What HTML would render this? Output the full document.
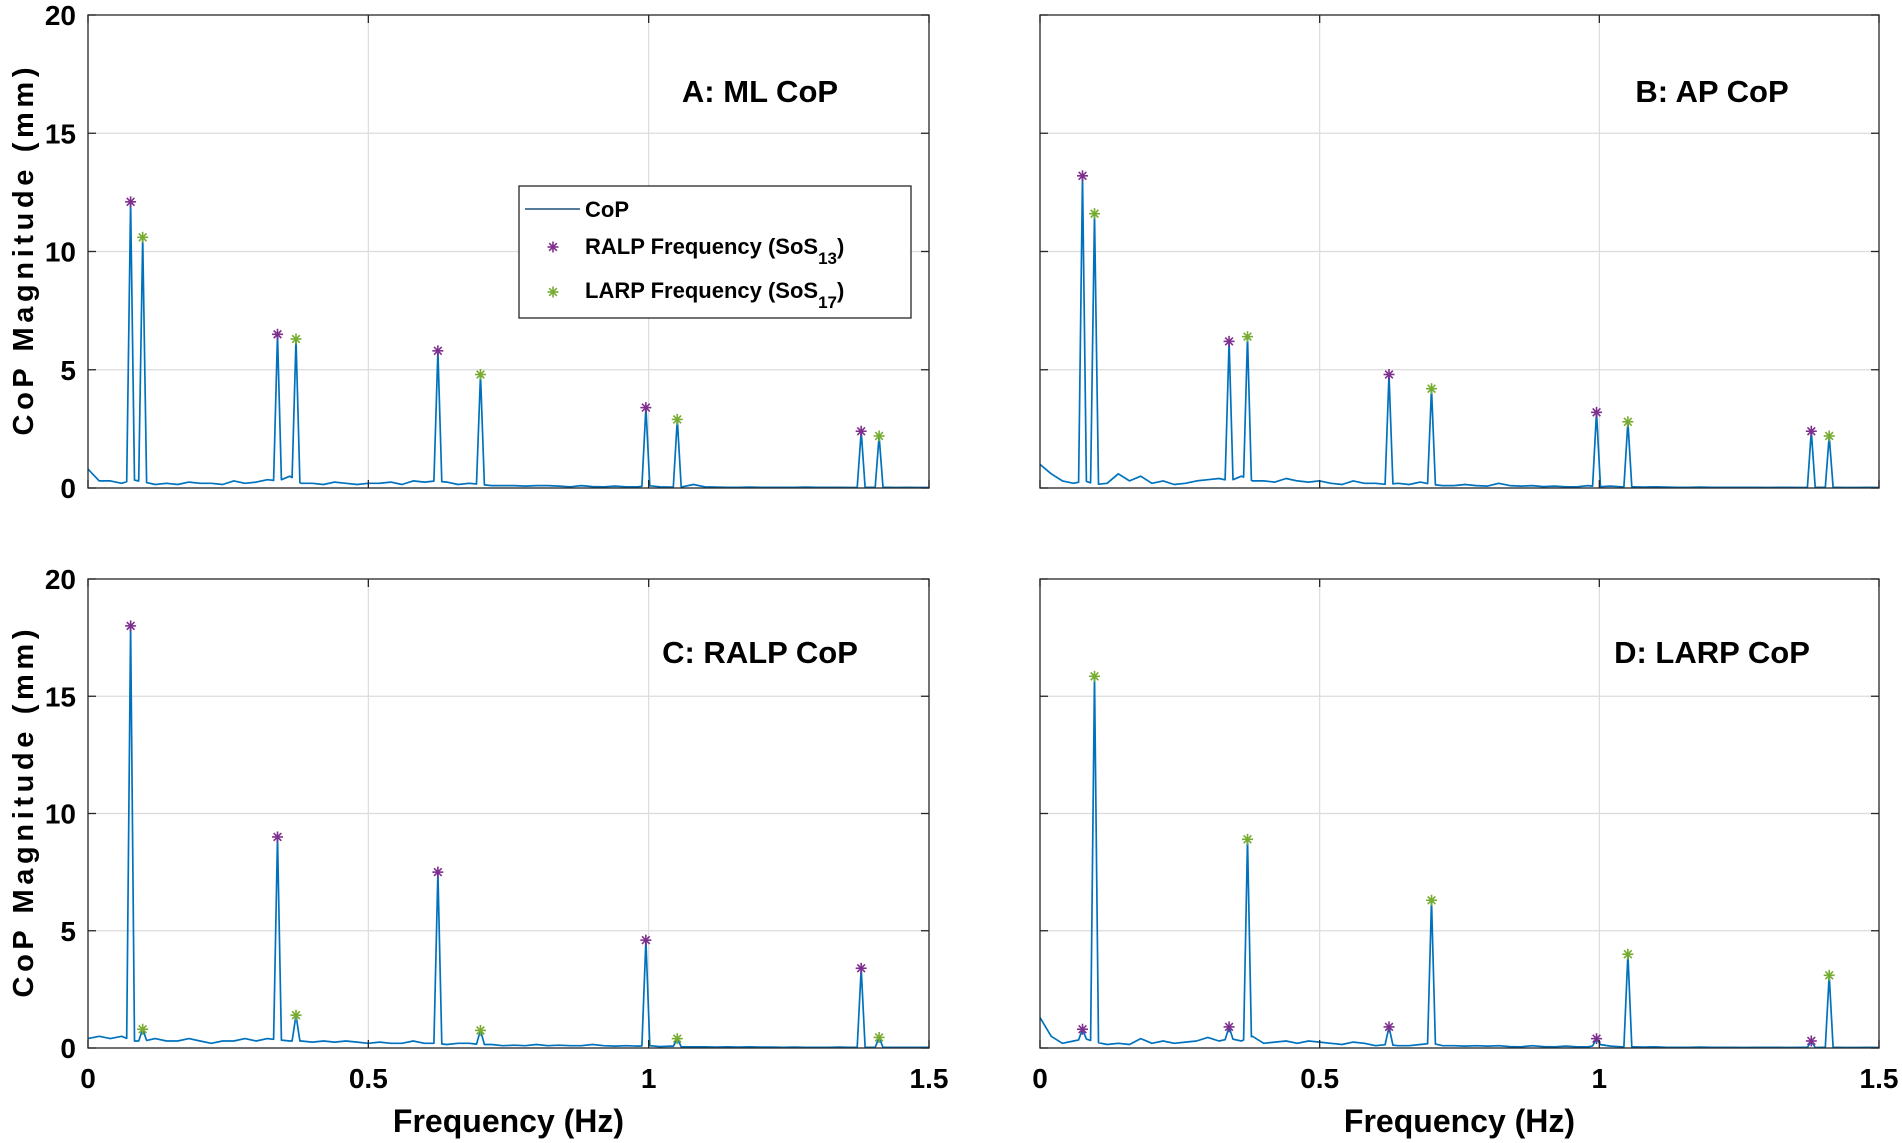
<!DOCTYPE html>
<html><head><meta charset="utf-8"><style>
html,body{margin:0;padding:0;background:#fff;}
svg{display:block;}
.tk{font-family:"Liberation Sans Narrow","Liberation Sans",sans-serif;font-weight:bold;font-size:28px;fill:#000;}
.ttl{font-family:"Liberation Sans Narrow","Liberation Sans",sans-serif;font-weight:bold;font-size:31px;fill:#000;}
.ax{font-family:"Liberation Sans",sans-serif;font-weight:bold;font-size:29px;fill:#000;}
.lg{font-family:"Liberation Sans",sans-serif;font-weight:bold;font-size:22px;fill:#000;}
</style></head><body>
<svg id="chart" width="1902" height="1143" viewBox="0 0 1902 1143" xmlns="http://www.w3.org/2000/svg"></svg>
<script>
const ralpFreqs = [0.076, 0.338, 0.624, 0.995, 1.379];
const larpFreqs = [0.0975, 0.371, 0.700, 1.051, 1.411];
const xTicks = [0, 0.5, 1, 1.5];
const xTickLabels = ["0", "0.5", "1", "1.5"];
const yTicks = [0, 5, 10, 15, 20];
const yTickLabels = ["0", "5", "10", "15", "20"];
const ralpA = [12.1, 6.5, 5.8, 3.4, 2.4];
const larpA = [10.6, 6.3, 4.8, 2.9, 2.2];
const ralpB = [13.2, 6.2, 4.8, 3.2, 2.4];
const larpB = [11.6, 6.4, 4.2, 2.8, 2.2];
const ralpC = [18.0, 9.0, 7.5, 4.6, 3.4];
const larpC = [0.8, 1.4, 0.75, 0.4, 0.45];
const ralpD = [0.8, 0.9, 0.9, 0.4, 0.3];
const larpD = [15.85, 8.9, 6.3, 4.0, 3.1];
const noiseA = [0.8,0.3,0.3,0.2,0.35,0.25,0.15,0.2,0.15,0.25,0.2,0.2,0.15,0.3,0.2,0.25,0.35,0.3,0.5,0.2,0.2,0.15,0.25,0.2,0.15,0.2,0.2,0.25,0.15,0.3,0.25,0.3,0.25,0.15,0.2,0.15,0.1,0.1,0.1,0.08,0.1,0.1,0.08,0.05,0.1,0.06,0.05,0.08,0.05,0.05,0.1,0.05,0.04,0.05,0.15,0.05,0.04,0.03,0.03,0.04,0.03,0.03,0.03,0.03,0.04,0.03,0.03,0.03,0.02,0.03,0.03,0.03,0.02,0.03,0.02,0.02];
const noiseB = [1.0,0.6,0.3,0.2,0.3,0.15,0.2,0.6,0.3,0.5,0.2,0.3,0.15,0.2,0.3,0.35,0.4,0.3,0.5,0.3,0.3,0.25,0.4,0.3,0.25,0.3,0.2,0.15,0.3,0.2,0.2,0.15,0.2,0.15,0.25,0.15,0.1,0.1,0.15,0.1,0.08,0.2,0.1,0.08,0.1,0.06,0.08,0.05,0.05,0.1,0.05,0.08,0.05,0.05,0.04,0.05,0.04,0.03,0.03,0.04,0.03,0.03,0.03,0.03,0.03,0.02,0.03,0.03,0.02,0.03,0.03,0.03,0.02,0.02,0.03,0.02];
const noiseC = [0.4,0.5,0.4,0.5,0.3,0.3,0.4,0.3,0.3,0.4,0.3,0.2,0.3,0.3,0.4,0.3,0.4,0.35,0.3,0.3,0.25,0.3,0.25,0.3,0.25,0.2,0.25,0.2,0.2,0.3,0.2,0.2,0.15,0.2,0.2,0.15,0.15,0.1,0.12,0.1,0.15,0.1,0.12,0.1,0.1,0.15,0.1,0.08,0.1,0.08,0.1,0.06,0.08,0.05,0.05,0.05,0.04,0.05,0.04,0.05,0.04,0.04,0.03,0.04,0.03,0.03,0.03,0.04,0.03,0.03,0.03,0.03,0.03,0.03,0.03,0.03];
const noiseD = [1.3,0.5,0.2,0.3,0.4,0.25,0.15,0.2,0.15,0.4,0.2,0.3,0.2,0.25,0.3,0.45,0.3,0.4,0.3,0.5,0.2,0.25,0.3,0.2,0.3,0.25,0.2,0.15,0.25,0.2,0.1,0.15,0.1,0.1,0.15,0.2,0.1,0.1,0.08,0.1,0.08,0.1,0.06,0.05,0.1,0.06,0.05,0.08,0.05,0.05,0.15,0.08,0.05,0.05,0.04,0.05,0.03,0.03,0.03,0.04,0.03,0.03,0.03,0.02,0.03,0.03,0.03,0.02,0.03,0.02,0.03,0.03,0.02,0.02,0.03,0.02];

const NS = "http://www.w3.org/2000/svg";
const svg = document.getElementById('chart');
function mk(tag, attrs, parent){const e=document.createElementNS(NS,tag);for(const k in attrs)e.setAttribute(k,attrs[k]);(parent||svg).appendChild(e);return e;}

const panels = [
 {id:'a',title:'A: ML CoP',x0:88,x1:929,yT:15,yB:488,ralp:ralpA,larp:larpA,noise:noiseA,showY:true,showX:false,tx:760,ty:102},
 {id:'b',title:'B: AP CoP',x0:1040,x1:1879,yT:15,yB:488,ralp:ralpB,larp:larpB,noise:noiseB,showY:false,showX:false,tx:1712,ty:102},
 {id:'c',title:'C: RALP CoP',x0:88,x1:929,yT:579,yB:1048,ralp:ralpC,larp:larpC,noise:noiseC,showY:true,showX:true,tx:760,ty:663},
 {id:'d',title:'D: LARP CoP',x0:1040,x1:1879,yT:579,yB:1048,ralp:ralpD,larp:larpD,noise:noiseD,showY:false,showX:true,tx:1712,ty:663}
];

function star(g,cx,cy,color,r){
  const s=mk('g',{stroke:color,'stroke-width':1.6},g);
  
  
  mk('line',{x1:cx-r,y1:cy,x2:cx+r,y2:cy},s);
  mk('line',{x1:cx,y1:cy-r,x2:cx,y2:cy+r},s);
  mk('line',{x1:cx-r*0.7,y1:cy-r*0.7,x2:cx+r*0.7,y2:cy+r*0.7},s);
  mk('line',{x1:cx-r*0.7,y1:cy+r*0.7,x2:cx+r*0.7,y2:cy-r*0.7},s);
}

panels.forEach(p=>{
  const xs=f=>p.x0+(f/1.5)*(p.x1-p.x0);
  const ys=v=>p.yB-(v/20)*(p.yB-p.yT);
  const g=mk('g',{});
  
  
  xTicks.forEach(t=>{if(t>0&&t<1.5){const l=mk('line',{x1:xs(t),x2:xs(t),y1:p.yT,y2:p.yB,stroke:'#dcdcdc','stroke-width':1.2},g);}});
  yTicks.forEach(t=>{if(t>0&&t<20){const l=mk('line',{x1:p.x0,x2:p.x1,y1:ys(t),y2:ys(t),stroke:'#dcdcdc','stroke-width':1.2},g);}});
  const pts=[];
  const n=p.noise.length;
  const peaks=[];
  ralpFreqs.forEach((f,i)=>peaks.push([f,p.ralp[i]]));
  larpFreqs.forEach((f,i)=>peaks.push([f,p.larp[i]]));
  p.noise.forEach((v,i)=>{const f=i*1.5/(n-1);if(!peaks.some(k=>Math.abs(k[0]-f)<0.008))pts.push([f,v]);});
  const base=f=>{const i=Math.min(n-2,Math.floor(f/(1.5/(n-1))));const t=f/(1.5/(n-1))-i;return p.noise[i]*(1-t)+p.noise[i+1]*t;};
  peaks.forEach(k=>{pts.push([k[0]-0.007,base(k[0]-0.007)]);pts.push([k[0],k[1]]);pts.push([k[0]+0.007,base(k[0]+0.007)]);});
  pts.sort((a,b)=>a[0]-b[0]);
  const d=pts.map((q,i)=>(i?'L':'M')+xs(q[0]).toFixed(1)+' '+ys(q[1]).toFixed(1)).join(' ');
  const path=mk('path',{d:d,fill:'none',stroke:'#0072BD','stroke-width':1.7,'stroke-linejoin':'round'},g);
  
  
  ralpFreqs.forEach((f,i)=>star(g,xs(f),ys(p.ralp[i]),'#7E2F8E',5.5));
  larpFreqs.forEach((f,i)=>star(g,xs(f),ys(p.larp[i]),'#77AC30',5.5));
  const b=mk('rect',{x:p.x0,y:p.yT,width:p.x1-p.x0,height:p.yB-p.yT,fill:'none',stroke:'#262626','stroke-width':1.3},g);
  
  
  yTicks.forEach((t,i)=>{
    mk('line',{x1:p.x0,x2:p.x0+8,y1:ys(t),y2:ys(t),stroke:'#262626','stroke-width':1.3},g);
    mk('line',{x1:p.x1,x2:p.x1-8,y1:ys(t),y2:ys(t),stroke:'#262626','stroke-width':1.3},g);
    if(p.showY){const tx=mk('text',{x:p.x0-12,y:ys(t)+10,'text-anchor':'end',class:'tk'},g);tx.textContent=yTickLabels[i];}
  });
  xTicks.forEach((t,i)=>{
    mk('line',{x1:xs(t),x2:xs(t),y1:p.yB,y2:p.yB-8,stroke:'#262626','stroke-width':1.3},g);
    mk('line',{x1:xs(t),x2:xs(t),y1:p.yT,y2:p.yT+8,stroke:'#262626','stroke-width':1.3},g);
    if(p.showX){const tx=mk('text',{x:xs(t),y:p.yB+40,'text-anchor':'middle',class:'tk'},g);tx.textContent=xTickLabels[i];}
  });
  const tt=mk('text',{x:p.tx,y:p.ty,'text-anchor':'middle',class:'ttl'},g);
  tt.textContent=p.title;
  
  
  if(p.showY){
    const cy=(p.yT+p.yB)/2;
    const yt=mk('text',{x:0,y:0,'text-anchor':'middle',class:'ax',transform:'translate(33,'+cy+') rotate(-90)',textLength:368,lengthAdjust:'spacing'},g);
    yt.textContent='CoP Magnitude (mm)';
    
    
  }
  if(p.showX){
    const xt=mk('text',{x:(p.x0+p.x1)/2,y:1132,'text-anchor':'middle',class:'ax',style:'font-size:32px'},g);
    xt.textContent='Frequency (Hz)';
    
    
  }
});

const lg=mk('g',{});


mk('rect',{x:519,y:186,width:392,height:132,fill:'#fff',stroke:'#262626','stroke-width':1.3},lg);
mk('line',{x1:525,x2:580,y1:209,y2:209,stroke:'#1f4e79','stroke-width':1.6},lg);
star(lg,553,247,'#7E2F8E',5.5);
star(lg,553,292,'#77AC30',5.5);
const e1=mk('text',{x:585,y:217,class:'lg'},lg);e1.textContent='CoP';


const e2=mk('text',{x:585,y:254,class:'lg'},lg);


e2.innerHTML='RALP Frequency (SoS<tspan dy="10" font-size="17">13</tspan><tspan dy="-10">)</tspan>';
const e3=mk('text',{x:585,y:298,class:'lg'},lg);


e3.innerHTML='LARP Frequency (SoS<tspan dy="10" font-size="17">17</tspan><tspan dy="-10">)</tspan>';
</script>
</body></html>
